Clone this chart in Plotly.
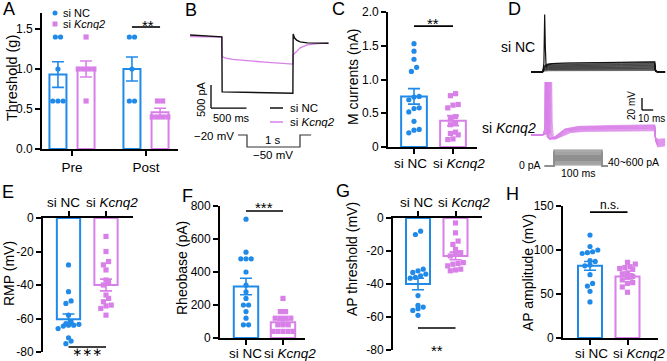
import plotly.graph_objects as go

W, H = 667, 361
FONT = "Liberation Sans, Arial, Helvetica, sans-serif"
BLUE = "#1f8ae8"
PINK = "#d880e8"
BLACK = "#111111"

# ---------------- data ----------------
cats = ["si NC", "si <i>Kcnq2</i>"]

# A  mechanical threshold
A_groups = ["Pre", "Post"]
A_nc_mean = [0.93, 1.00]
A_nc_sem = [0.16, 0.15]
A_kc_mean = [1.00, 0.46]
A_kc_sem = [0.10, 0.05]
A_nc_pts = [[1.4, 1.4, 1.0, 0.6, 0.6, 0.6], [1.4, 1.4, 1.0, 0.6, 0.6]]
A_kc_pts = [[1.4, 1.0, 1.0, 1.0, 1.0, 0.6], [0.6, 0.6, 0.4, 0.4, 0.4, 0.4]]

# B  M-current example traces (ms, pA)
B_t_nc = [-450, -300, -150, -2, 2, 300, 700, 998, 1002, 1020, 1050, 1100, 1200, 1350, 1500]
B_i_nc = [0, -10, -25, -40, -1235, -1245, -1258, -1265, 20, -60, -110, -150, -170, -178, -180]
B_t_kc = [-450, -2, 2, 50, 150, 300, 600, 998, 1002, 1050, 1100, 1200, 1350, 1500]
B_i_kc = [-35, -45, -470, -500, -530, -555, -590, -630, -430, -360, -280, -215, -185, -175]
B_prot_t = [-170, 0, 0, 1000, 1000, 1210]
B_prot_v = [-20, -20, -50, -50, -20, -20]

# C  M currents (nA)
C_mean = [0.75, 0.39]
C_sem = [0.115, 0.075]
C_nc = [1.53, 1.42, 1.30, 1.18, 1.12, 0.75, 0.74, 0.70, 0.58, 0.57, 0.52, 0.38, 0.26, 0.25, 0.21]
C_kc = [0.79, 0.76, 0.63, 0.62, 0.58, 0.45, 0.42, 0.35, 0.33, 0.22, 0.20, 0.18, 0.12, 0.11]

# D  firing traces (ms, mV relative to rest)
D_nc_t = [-10.7, -0.1, 0.6, 2, 5, 15, 40, 70, 99.8, 100.6, 102, 109]
D_nc_f = [0, 0, 0.55, 0.75, 0.85, 0.88, 0.92, 0.96, 1.0, 0.15, 0.03, 0]
D_nc_level = [2.5, 4, 5, 6, 7, 8, 9, 10, 11, 12, 13, 14, 15, 16.5]
D_nc_spk_t = [-10.7, -0.1, 0.8, 1.5, 2.1, 2.8, 4.0, 8, 20, 50, 99.8, 100.6, 102, 109]
D_nc_spk_v = [0, 0, 15, 96, 40, 8, 12, 14, 15, 16, 17, 3, 0.5, 0]
D_kc_lat = [1.5, 1.6, 1.8, 2.0, 2.3, 2.6, 3.0, 3.4, 3.9, 4.4, 5.0, 5.6, 6.3, 7.0]
D_kc_level = [17, 16, 15.5, 15, 14, 13.5, 13, 12, 11.5, 11, 10, 9, 8, 7]
D_kc_post = [-20, -19, -18, -17, -16, -15, -14, -13, -12, -11, -10, -9, -8, -7]
D_currents = [40, 80, 120, 160, 200, 240, 280, 320, 360, 400, 440, 480, 520, 560, 600]

# E  RMP (mV)
E_mean = [-60.5, -40.0]
E_sem = [3.2, 3.5]
E_nc = [-28, -44, -49.5, -51, -58, -62, -63, -63.5, -64, -64, -64.5, -66, -71.5, -73.5, -75]
E_kc = [-11, -20, -26, -28, -31, -37, -38, -40, -46, -48, -50, -52, -52.5, -54, -58]

# F  Rheobase (pA)
F_mean = [312, 95]
F_sem = [50, 15]
F_nc = [720, 520, 480, 480, 480, 400, 320, 280, 240, 200, 200, 160, 120, 80, 80]
F_kc = [240, 160, 160, 120, 120, 120, 120, 80, 80, 80, 40, 40, 40, 40, 40]

# G  AP threshold (mV)
G_mean = [-40.0, -23.0]
G_sem = [3.5, 2.3]
G_nc = [-8, -10, -31, -32, -33, -34, -35, -36, -36.5, -47, -53, -54, -55, -56, -59]
G_kc = [-3, -9, -14, -16, -19, -21, -22, -23, -27, -27.5, -28, -29, -31, -31.5, -32]

# H  AP amplitude (mV)
H_mean = [82, 70]
H_sem = [5, 3]
H_nc = [117, 104, 100, 98, 97, 96, 88, 87, 83, 82, 72, 62, 59, 53, 41]
H_kc = [86, 84, 81, 80, 79, 78, 74, 73, 70, 69, 66, 63, 62, 58, 52]

# ---------------- helpers ----------------
fig = go.Figure()
layout = dict(template="none", width=W, height=H, margin=dict(l=0, r=0, t=0, b=0, pad=0), autosize=False,
              paper_bgcolor="white", plot_bgcolor="rgba(0,0,0,0)", showlegend=False,
              font=dict(family=FONT, color="black", size=12))
annotations = []
shapes = []


def names(n):
    s = "" if n == 1 else str(n)
    return "x" + s, "y" + s, "xaxis" + s, "yaxis" + s


def px2paper(px, py):
    return px / W, 1 - py / H


def ann(px, py, text, size=12, xanchor="center", yanchor="middle", angle=0, family=FONT, **kw):
    x, y = px2paper(px, py)
    annotations.append(dict(x=x, y=y, xref="paper", yref="paper", text=text, showarrow=False,
                            xanchor=xanchor, yanchor=yanchor, textangle=angle,
                            font=dict(family=family, size=size, color="black"), **kw))


def hidden_axes(n, xpx, ypx, xr, yr):
    xn, yn, xa, ya = names(n)
    layout[xa] = dict(domain=[xpx[0] / W, xpx[1] / W], range=xr, anchor=yn, visible=False,
                      fixedrange=True, automargin=False)
    layout[ya] = dict(domain=[1 - ypx[1] / H, 1 - ypx[0] / H], range=yr, anchor=xn, visible=False,
                      fixedrange=True, automargin=False)
    return xn, yn


def swarm(vals, pxy, d=5.2, maxn=5):
    order = sorted(range(len(vals)), key=lambda i: vals[i])
    rows = []
    for i in order:
        if rows and abs(vals[i] - vals[rows[-1][0]]) * pxy < d * 0.95 and len(rows[-1]) < maxn:
            rows[-1].append(i)
        else:
            rows.append([i])
    off = [0.0] * len(vals)
    for row in rows:
        n = len(row)
        for k, i in enumerate(row):
            off[i] = (k - (n - 1) / 2) * d
    return off


def bar_axes(n, xpx, centers, ypx, yr, yt, ytt, xtt, side="bottom", xtfs=13, labels=None):
    xn, yn, xa, ya = names(n)
    unit = centers[1] - centers[0]
    xr = [(xpx[0] - centers[0]) / unit, (xpx[1] - centers[0]) / unit]
    common = dict(showline=True, linecolor="black", linewidth=1.8, ticks="outside", ticklen=5,
                  tickwidth=1.8, tickcolor="black", showgrid=False, zeroline=False, fixedrange=True,
                  automargin=False, tickangle=0)
    layout[xa] = dict(domain=[xpx[0] / W, xpx[1] / W], range=xr, anchor=yn, side=side,
                      tickvals=list(range(len(xtt))), ticktext=xtt, showticklabels=labels is None,
                      tickfont=dict(family=FONT, size=xtfs), **common)
    layout[ya] = dict(domain=[1 - ypx[1] / H, 1 - ypx[0] / H], range=yr, anchor=xn,
                      tickvals=yt, ticktext=ytt, tickfont=dict(family=FONT, size=12), **common)
    if labels is not None:
        # category labels (spread slightly apart, as in the original figure)
        for (lx, ly), txt in zip(labels, xtt):
            ann(lx, ly, txt, 13.5)
    pxx = unit
    pxy = (ypx[1] - ypx[0]) / (yr[1] - yr[0])
    return xn, yn, pxx, pxy


def add_group(xn, yn, xc, mean, sem, pts, color, symbol, width, pxx, pxy):
    fig.add_trace(go.Bar(x=[xc], y=[mean], width=width, xaxis=xn, yaxis=yn,
                         marker=dict(color="rgba(255,255,255,0)", line=dict(color=color, width=2)),
                         error_y=dict(type="data", array=[sem], color=color, thickness=1.6, width=6),
                         hoverinfo="skip"))
    off = swarm(pts, pxy)
    fig.add_trace(go.Scatter(x=[xc + o / pxx for o in off], y=pts, mode="markers", xaxis=xn, yaxis=yn,
                             marker=dict(color=color, symbol=symbol, size=5.2, line=dict(width=0)),
                             cliponaxis=False, hoverinfo="skip"))


def sig(xn, yn, x0, x1, y):
    shapes.append(dict(type="line", xref=xn, yref=yn, x0=x0, x1=x1, y0=y, y1=y,
                       line=dict(color="black", width=1.6)))


# ---------------- A ----------------
xn, yn, pxx, pxy = bar_axes(1, (42, 178), (72, 146), (13, 149), [0, 1.7], [0, 0.5, 1.0, 1.5],
                            ["0.0", "0.5", "1.0", "1.5"], A_groups, xtfs=13.5)
for g in range(len(A_groups)):
    add_group(xn, yn, g - 0.19, A_nc_mean[g], A_nc_sem[g], A_nc_pts[g], BLUE, "circle", 0.23, pxx, pxy)
    add_group(xn, yn, g + 0.19, A_kc_mean[g], A_kc_sem[g], A_kc_pts[g], PINK, "square", 0.23, pxx, pxy)
sig(xn, yn, 1 - 0.19, 1 + 0.19, 1.525)
ann(148, 25, "**", 15)
ann(12, 78, "Threshold (g)", 14.5, angle=-90)
# legend of A
for (cx, cy, col, typ) in [(55, 13, BLUE, "circle"), (55, 24, PINK, "rect")]:
    shapes.append(dict(type=typ, xref="paper", yref="paper", x0=(cx - 2.5) / W, x1=(cx + 2.5) / W,
                       y0=1 - (cy + 2.5) / H, y1=1 - (cy - 2.5) / H, fillcolor=col, line=dict(width=0)))
ann(61, 13, "si NC", 11, xanchor="left")
ann(61, 24, "si <i>Kcnq2</i>", 11, xanchor="left")

# ---------------- B ----------------
# traces: t=0 at px 222, 14.08 ms/px ; 0 pA at py 35, 21.7 pA/px
bx0, bx1, by0, by1 = 185, 335, 15, 130
xr = [(bx0 - 222) * 14.08, (bx1 - 222) * 14.08]
yr = [-(by1 - 35) * 21.7, (35 - by0) * 21.7]
xb, yb = hidden_axes(2, (bx0, bx1), (by0, by1), xr, yr)
fig.add_trace(go.Scatter(x=B_t_kc, y=B_i_kc, mode="lines", xaxis=xb, yaxis=yb,
                         line=dict(color=PINK, width=1.3), hoverinfo="skip"))
fig.add_trace(go.Scatter(x=B_t_nc, y=B_i_nc, mode="lines", xaxis=xb, yaxis=yb,
                         line=dict(color=BLACK, width=1.4), hoverinfo="skip"))
sb_t, sb_i = (211 - 222) * 14.08, -(85 - 35) * 21.7
shapes.append(dict(type="line", xref=xb, yref=yb, x0=sb_t, x1=sb_t, y0=sb_i, y1=sb_i - 500,
                   line=dict(color="black", width=1.3)))
shapes.append(dict(type="line", xref=xb, yref=yb, x0=sb_t, x1=sb_t + 500, y0=sb_i - 500, y1=sb_i - 500,
                   line=dict(color="black", width=1.3)))
ann(201, 99, "500 pA", 11, angle=-90)
ann(231, 118, "500 ms", 11)
# legend of B
for (py, col) in [(108, BLACK), (122, PINK)]:
    shapes.append(dict(type="line", xref="paper", yref="paper", x0=270 / W, x1=283 / W,
                       y0=1 - py / H, y1=1 - py / H, line=dict(color=col, width=1.5)))
ann(288, 108, "si NC", 11.5, xanchor="left")
ann(288, 122, "si <i>Kcnq2</i>", 11.5, xanchor="left")
# protocol
px0, px1, py0, py1 = 230, 320, 128, 160
xr = [(px0 - 247) * 18.87, (px1 - 247) * 18.87]
yr = [-20 - (py1 - 135) * 2.5, -20 + (135 - py0) * 2.5]
xp, yp = hidden_axes(3, (px0, px1), (py0, py1), xr, yr)
fig.add_trace(go.Scatter(x=B_prot_t, y=B_prot_v, mode="lines", xaxis=xp, yaxis=yp,
                         line=dict(color="#333333", width=1.2), hoverinfo="skip"))
ann(236, 136, "\u221220 mV", 11.5, xanchor="right")
ann(273, 140, "1 s", 11.5)
ann(273, 155, "\u221250 mV", 11.5)

# ---------------- C ----------------
xn, yn, pxx, pxy = bar_axes(4, (388, 477), (414, 453), (12, 147), [0, 2.0], [0, 0.5, 1.0, 1.5, 2.0],
                            ["0", "0.5", "1.0", "1.5", "2.0"], cats, labels=[(411, 163), (459, 163)])
add_group(xn, yn, 0, C_mean[0], C_sem[0], C_nc, BLUE, "circle", 0.66, pxx, pxy)
add_group(xn, yn, 1, C_mean[1], C_sem[1], C_kc, PINK, "square", 0.66, pxx, pxy)
sig(xn, yn, 0, 1, 1.79)
ann(433, 23, "**", 15)
ann(353, 77, "M currents (nA)", 14, angle=-90)

# ---------------- D ----------------
# t=0 at px 543, 0.893 ms/px ; 1.667 mV/px
dx0, dx1 = 525, 667
xr = [(dx0 - 543) * 0.893, (dx1 - 543) * 0.893]
xd1, yd1 = hidden_axes(5, (dx0, dx1), (10, 80), xr, [-(80 - 72) * 1.667, (72 - 10) * 1.667])
for lv in D_nc_level:
    fig.add_trace(go.Scatter(x=D_nc_t, y=[f * lv for f in D_nc_f], mode="lines", xaxis=xd1, yaxis=yd1,
                             line=dict(color=BLACK, width=0.6), hoverinfo="skip"))
fig.add_trace(go.Scatter(x=D_nc_spk_t, y=D_nc_spk_v, mode="lines", xaxis=xd1, yaxis=yd1,
                         line=dict(color=BLACK, width=1.2), hoverinfo="skip"))
xd2, yd2 = hidden_axes(6, (dx0, dx1), (82, 152), xr, [-(152 - 135) * 1.667, (135 - 82) * 1.667])
for L, p, q in zip(D_kc_lat, D_kc_level, D_kc_post):
    t = [-10.7, -0.1, L - 0.3, L, L + 0.35, L + 0.7, L + 1.3, L + 2.2, L + 4, L + 9, L + 18, L + 30,
         60, 99.8, 100.5, 102.5, 109]
    v = [0, 0, 0.5 * p, 20, 100, 100, 20, -3, -7, -3, 0.6 * p, 0.85 * p, 0.93 * p, p, 0.5 * q, q, 0.9 * q]
    fig.add_trace(go.Scatter(x=t, y=v, mode="lines", xaxis=xd2, yaxis=yd2,
                             line=dict(color=PINK, width=0.7), hoverinfo="skip"))
sb_t, sb_v = (642 - 543) * 0.893, (135 - 110) * 1.667
shapes.append(dict(type="line", xref=xd2, yref=yd2, x0=sb_t, x1=sb_t, y0=sb_v, y1=sb_v + 20,
                   line=dict(color="black", width=1.3)))
shapes.append(dict(type="line", xref=xd2, yref=yd2, x0=sb_t, x1=sb_t + 10, y0=sb_v, y1=sb_v,
                   line=dict(color="black", width=1.3)))
ann(631, 106, "20 mV", 10, angle=-90)
ann(651, 118, "10 ms", 10)
ann(537, 47, "si NC", 14, xanchor="right")
ann(538, 128, "si <i>Kcnq2</i>", 14, xanchor="right")
# current protocol: t=0 at px 554, 2.083 ms/px ; 0 pA at py 166, 37.5 pA/px
qx0, qx1, qy0, qy1 = 540, 612, 146, 170
xq, yq = hidden_axes(7, (qx0, qx1), (qy0, qy1), [(qx0 - 554) * 2.083, (qx1 - 554) * 2.083],
                     [-(qy1 - 166) * 37.5, (166 - qy0) * 37.5])
for c in D_currents:
    fig.add_trace(go.Scatter(x=[-19, 0, 0, 100, 100, 112.5], y=[0, 0, c, c, 0, 0], mode="lines",
                             xaxis=xq, yaxis=yq, line=dict(color="#8f8f8f", width=1.1), hoverinfo="skip"))
ann(543, 165, "0 pA", 10.5, xanchor="right")
ann(606, 162, "40~600 pA", 10.5, xanchor="left")
ann(578, 173, "100 ms", 10.5)

# ---------------- E ----------------
xn, yn, pxx, pxy = bar_axes(8, (43, 133), (68.5, 106), (218, 352), [-80, 0], [0, -20, -40, -60, -80],
                            ["0", "-20", "-40", "-60", "-80"], cats, side="top",
                            labels=[(63.5, 202), (112, 202)])
add_group(xn, yn, 0, E_mean[0], E_sem[0], E_nc, BLUE, "circle", 0.62, pxx, pxy)
add_group(xn, yn, 1, E_mean[1], E_sem[1], E_kc, PINK, "square", 0.62, pxx, pxy)
sig(xn, yn, 0, 1, -77)
ann(87, 361, "\u2217\u2217\u2217", 12, yanchor="bottom", family="DejaVu Sans, sans-serif")
ann(9, 274, "RMP (mV)", 14, angle=-90)

# ---------------- F ----------------
xn, yn, pxx, pxy = bar_axes(9, (220, 305), (246, 283), (206, 338), [0, 800], [0, 200, 400, 600, 800],
                            ["0", "200", "400", "600", "800"], cats, labels=[(245, 353), (290, 353)])
add_group(xn, yn, 0, F_mean[0], F_sem[0], F_nc, BLUE, "circle", 0.66, pxx, pxy)
add_group(xn, yn, 1, F_mean[1], F_sem[1], F_kc, PINK, "square", 0.66, pxx, pxy)
sig(xn, yn, 0, 1, 770)
ann(264, 207, "***", 15)
ann(182, 268, "Rheobase (pA)", 14, angle=-90)

# ---------------- G ----------------
xn, yn, pxx, pxy = bar_axes(10, (393, 482), (418, 455.5), (218, 350), [-80, 0], [0, -20, -40, -60, -80],
                            ["0", "-20", "-40", "-60", "-80"], cats, side="top",
                            labels=[(416, 202), (464, 202)])
add_group(xn, yn, 0, G_mean[0], G_sem[0], G_nc, BLUE, "circle", 0.64, pxx, pxy)
add_group(xn, yn, 1, G_mean[1], G_sem[1], G_kc, PINK, "square", 0.64, pxx, pxy)
sig(xn, yn, 0, 1, -66.7)
ann(437, 350, "**", 15)
ann(352, 259, "AP threshold (mV)", 14, angle=-90)

# ---------------- H ----------------
xn, yn, pxx, pxy = bar_axes(11, (563, 658), (590, 627.5), (206, 338), [0, 150], [0, 50, 100, 150],
                            ["0", "50", "100", "150"], cats, labels=[(591, 353), (639, 353)])
add_group(xn, yn, 0, H_mean[0], H_sem[0], H_nc, BLUE, "circle", 0.64, pxx, pxy)
add_group(xn, yn, 1, H_mean[1], H_sem[1], H_kc, PINK, "square", 0.64, pxx, pxy)
sig(xn, yn, 0, 1, 143)
ann(609, 205, "n.s.", 12)
ann(528, 273, "AP amplitude (mV)", 14, angle=-90)

# panel letters
for (lx, ly, L) in [(9, 9, "A"), (191, 10, "B"), (338, 9, "C"), (514, 9, "D"),
                    (8, 192, "E"), (187, 196, "F"), (343, 191, "G"), (512, 194, "H")]:
    ann(lx, ly, L, 18)

layout["annotations"] = annotations
layout["shapes"] = shapes
fig.update_layout(**layout)
fig.write_html("out.html", config={"displayModeBar": False},
               post_script="document.body.style.margin='0';document.body.style.padding='0';"
                           "document.documentElement.style.overflow='hidden';")
